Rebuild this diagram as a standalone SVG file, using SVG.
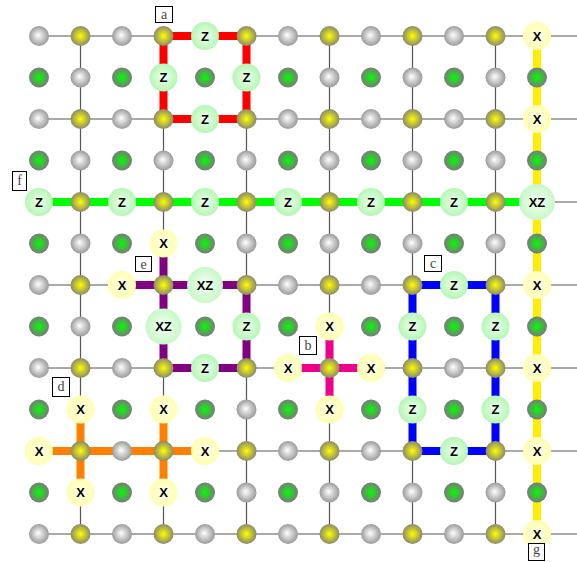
<svg xmlns="http://www.w3.org/2000/svg" width="577" height="562" viewBox="0 0 577 562">
<defs>
<radialGradient id="gGrey" cx="0.5" cy="0.5" r="0.5" fx="0.45" fy="0.45"><stop offset="0" stop-color="#ffffff"/><stop offset="1" stop-color="#9a9a9a"/></radialGradient>
<radialGradient id="gYel" cx="0.5" cy="0.5" r="0.5"><stop offset="0" stop-color="#ffff00"/><stop offset="1" stop-color="#8a8a6a"/></radialGradient>
<radialGradient id="gGrn" cx="0.5" cy="0.5" r="0.5"><stop offset="0" stop-color="#00ff00"/><stop offset="1" stop-color="#7a7a7a"/></radialGradient>
<radialGradient id="gX" cx="0.5" cy="0.5" r="0.5"><stop offset="0" stop-color="#ffffea"/><stop offset="1" stop-color="#ffffb0"/></radialGradient>
<radialGradient id="gZ" cx="0.5" cy="0.5" r="0.5"><stop offset="0" stop-color="#f0fff0"/><stop offset="1" stop-color="#b4f7b4"/></radialGradient>
<radialGradient id="gXZ" cx="0.5" cy="0.5" r="0.5"><stop offset="0" stop-color="#f4fff4"/><stop offset="1" stop-color="#c8f8c8"/></radialGradient>
</defs>
<style>
.g{fill:url(#gGrey)}
.y{fill:url(#gYel)}
.n{fill:url(#gGrn)}
.x{fill:url(#gX)}
.z{fill:url(#gZ)}
.xz{fill:url(#gXZ)}
.t{font-family:"Liberation Sans",Arial,sans-serif;font-weight:bold;font-size:13px;text-anchor:middle;fill:#000}
.grid{stroke:#555;stroke-width:1.2;fill:none}
.p{fill:none;stroke-width:8;stroke-linejoin:miter;stroke-linecap:butt}
.lb rect{fill:#fff;stroke:#000;stroke-width:1}
.lb text{font-family:"Liberation Serif","Times New Roman",serif;font-size:14px;text-anchor:middle;fill:#444}
</style>
<rect width="577" height="562" fill="#fff"/>
<g id="connectors">
<g id="grid-lines" class="grid">
<path d="M39,36H577M39,119H577M39,202H577M39,285H577M39,368H577M39,451H577M39,534H577"/>
<path d="M80.5,36V534M163.5,36V534M246.5,36V534M329.5,36V534M412.5,36V534M495.5,36V534"/>
</g>
<path id="path-a" class="p" stroke="#ff0000" d="M163.5,36H246.5V119H163.5Z"/>
<path id="path-f" class="p" stroke="#00ff00" d="M39,202H537"/>
<path id="path-g" class="p" stroke="#ffee00" d="M537,36V534"/>
<path id="path-c" class="p" stroke="#0000ff" d="M412.5,285H495.5V451H412.5Z"/>
<path id="path-e" class="p" stroke="#800080" d="M163.5,243.5V368H246.5V285H122"/>
<path id="path-b" class="p" stroke="#ec008c" d="M329.5,326.5V409.5M288,368H371"/>
<path id="path-d" class="p" stroke="#ff8000" d="M39,451H205M80.5,409.5V492.5M163.5,409.5V492.5"/>
</g>
<g id="nodes">
<!-- row 0 -->
<g id="n0-0"><circle class="g" cx="39" cy="36" r="10"/></g>
<g id="n0-1"><circle class="y" cx="80.5" cy="36" r="10"/></g>
<g id="n0-2"><circle class="g" cx="122" cy="36" r="10"/></g>
<g id="n0-3"><circle class="y" cx="163.5" cy="36" r="10"/></g>
<g id="n0-4"><circle class="z" cx="205" cy="36" r="14"/><text class="t" x="205" y="40.6">Z</text></g>
<g id="n0-5"><circle class="y" cx="246.5" cy="36" r="10"/></g>
<g id="n0-6"><circle class="g" cx="288" cy="36" r="10"/></g>
<g id="n0-7"><circle class="y" cx="329.5" cy="36" r="10"/></g>
<g id="n0-8"><circle class="g" cx="371" cy="36" r="10"/></g>
<g id="n0-9"><circle class="y" cx="412.5" cy="36" r="10"/></g>
<g id="n0-10"><circle class="g" cx="454" cy="36" r="10"/></g>
<g id="n0-11"><circle class="y" cx="495.5" cy="36" r="10"/></g>
<g id="n0-12"><circle class="x" cx="537" cy="36" r="14"/><text class="t" x="537" y="40.6">X</text></g>
<!-- row 1 -->
<g id="n1-0"><circle class="n" cx="39" cy="77.5" r="10"/></g>
<g id="n1-1"><circle class="g" cx="80.5" cy="77.5" r="10"/></g>
<g id="n1-2"><circle class="n" cx="122" cy="77.5" r="10"/></g>
<g id="n1-3"><circle class="z" cx="163.5" cy="77.5" r="14"/><text class="t" x="163.5" y="82.1">Z</text></g>
<g id="n1-4"><circle class="n" cx="205" cy="77.5" r="10"/></g>
<g id="n1-5"><circle class="z" cx="246.5" cy="77.5" r="14"/><text class="t" x="246.5" y="82.1">Z</text></g>
<g id="n1-6"><circle class="n" cx="288" cy="77.5" r="10"/></g>
<g id="n1-7"><circle class="g" cx="329.5" cy="77.5" r="10"/></g>
<g id="n1-8"><circle class="n" cx="371" cy="77.5" r="10"/></g>
<g id="n1-9"><circle class="g" cx="412.5" cy="77.5" r="10"/></g>
<g id="n1-10"><circle class="n" cx="454" cy="77.5" r="10"/></g>
<g id="n1-11"><circle class="g" cx="495.5" cy="77.5" r="10"/></g>
<g id="n1-12"><circle class="n" cx="537" cy="77.5" r="10"/></g>
<!-- row 2 -->
<g id="n2-0"><circle class="g" cx="39" cy="119" r="10"/></g>
<g id="n2-1"><circle class="y" cx="80.5" cy="119" r="10"/></g>
<g id="n2-2"><circle class="g" cx="122" cy="119" r="10"/></g>
<g id="n2-3"><circle class="y" cx="163.5" cy="119" r="10"/></g>
<g id="n2-4"><circle class="z" cx="205" cy="119" r="14"/><text class="t" x="205" y="123.6">Z</text></g>
<g id="n2-5"><circle class="y" cx="246.5" cy="119" r="10"/></g>
<g id="n2-6"><circle class="g" cx="288" cy="119" r="10"/></g>
<g id="n2-7"><circle class="y" cx="329.5" cy="119" r="10"/></g>
<g id="n2-8"><circle class="g" cx="371" cy="119" r="10"/></g>
<g id="n2-9"><circle class="y" cx="412.5" cy="119" r="10"/></g>
<g id="n2-10"><circle class="g" cx="454" cy="119" r="10"/></g>
<g id="n2-11"><circle class="y" cx="495.5" cy="119" r="10"/></g>
<g id="n2-12"><circle class="x" cx="537" cy="119" r="14"/><text class="t" x="537" y="123.6">X</text></g>
<!-- row 3 -->
<g id="n3-0"><circle class="n" cx="39" cy="160.5" r="10"/></g>
<g id="n3-1"><circle class="g" cx="80.5" cy="160.5" r="10"/></g>
<g id="n3-2"><circle class="n" cx="122" cy="160.5" r="10"/></g>
<g id="n3-3"><circle class="g" cx="163.5" cy="160.5" r="10"/></g>
<g id="n3-4"><circle class="n" cx="205" cy="160.5" r="10"/></g>
<g id="n3-5"><circle class="g" cx="246.5" cy="160.5" r="10"/></g>
<g id="n3-6"><circle class="n" cx="288" cy="160.5" r="10"/></g>
<g id="n3-7"><circle class="g" cx="329.5" cy="160.5" r="10"/></g>
<g id="n3-8"><circle class="n" cx="371" cy="160.5" r="10"/></g>
<g id="n3-9"><circle class="g" cx="412.5" cy="160.5" r="10"/></g>
<g id="n3-10"><circle class="n" cx="454" cy="160.5" r="10"/></g>
<g id="n3-11"><circle class="g" cx="495.5" cy="160.5" r="10"/></g>
<g id="n3-12"><circle class="n" cx="537" cy="160.5" r="10"/></g>
<!-- row 4 -->
<g id="n4-0"><circle class="z" cx="39" cy="202" r="14"/><text class="t" x="39" y="206.6">Z</text></g>
<g id="n4-1"><circle class="y" cx="80.5" cy="202" r="10"/></g>
<g id="n4-2"><circle class="z" cx="122" cy="202" r="14"/><text class="t" x="122" y="206.6">Z</text></g>
<g id="n4-3"><circle class="y" cx="163.5" cy="202" r="10"/></g>
<g id="n4-4"><circle class="z" cx="205" cy="202" r="14"/><text class="t" x="205" y="206.6">Z</text></g>
<g id="n4-5"><circle class="y" cx="246.5" cy="202" r="10"/></g>
<g id="n4-6"><circle class="z" cx="288" cy="202" r="14"/><text class="t" x="288" y="206.6">Z</text></g>
<g id="n4-7"><circle class="y" cx="329.5" cy="202" r="10"/></g>
<g id="n4-8"><circle class="z" cx="371" cy="202" r="14"/><text class="t" x="371" y="206.6">Z</text></g>
<g id="n4-9"><circle class="y" cx="412.5" cy="202" r="10"/></g>
<g id="n4-10"><circle class="z" cx="454" cy="202" r="14"/><text class="t" x="454" y="206.6">Z</text></g>
<g id="n4-11"><circle class="y" cx="495.5" cy="202" r="10"/></g>
<g id="n4-12"><circle class="xz" cx="537" cy="202" r="18"/><text class="t" x="537" y="206.6">XZ</text></g>
<!-- row 5 -->
<g id="n5-0"><circle class="n" cx="39" cy="243.5" r="10"/></g>
<g id="n5-1"><circle class="g" cx="80.5" cy="243.5" r="10"/></g>
<g id="n5-2"><circle class="n" cx="122" cy="243.5" r="10"/></g>
<g id="n5-3"><circle class="x" cx="163.5" cy="243.5" r="14"/><text class="t" x="163.5" y="248.1">X</text></g>
<g id="n5-4"><circle class="n" cx="205" cy="243.5" r="10"/></g>
<g id="n5-5"><circle class="g" cx="246.5" cy="243.5" r="10"/></g>
<g id="n5-6"><circle class="n" cx="288" cy="243.5" r="10"/></g>
<g id="n5-7"><circle class="g" cx="329.5" cy="243.5" r="10"/></g>
<g id="n5-8"><circle class="n" cx="371" cy="243.5" r="10"/></g>
<g id="n5-9"><circle class="g" cx="412.5" cy="243.5" r="10"/></g>
<g id="n5-10"><circle class="n" cx="454" cy="243.5" r="10"/></g>
<g id="n5-11"><circle class="g" cx="495.5" cy="243.5" r="10"/></g>
<g id="n5-12"><circle class="n" cx="537" cy="243.5" r="10"/></g>
<!-- row 6 -->
<g id="n6-0"><circle class="g" cx="39" cy="285" r="10"/></g>
<g id="n6-1"><circle class="y" cx="80.5" cy="285" r="10"/></g>
<g id="n6-2"><circle class="x" cx="122" cy="285" r="14"/><text class="t" x="122" y="289.6">X</text></g>
<g id="n6-3"><circle class="y" cx="163.5" cy="285" r="10"/></g>
<g id="n6-4"><circle class="xz" cx="205" cy="285" r="18"/><text class="t" x="205" y="289.6">XZ</text></g>
<g id="n6-5"><circle class="y" cx="246.5" cy="285" r="10"/></g>
<g id="n6-6"><circle class="g" cx="288" cy="285" r="10"/></g>
<g id="n6-7"><circle class="y" cx="329.5" cy="285" r="10"/></g>
<g id="n6-8"><circle class="g" cx="371" cy="285" r="10"/></g>
<g id="n6-9"><circle class="y" cx="412.5" cy="285" r="10"/></g>
<g id="n6-10"><circle class="z" cx="454" cy="285" r="14"/><text class="t" x="454" y="289.6">Z</text></g>
<g id="n6-11"><circle class="y" cx="495.5" cy="285" r="10"/></g>
<g id="n6-12"><circle class="x" cx="537" cy="285" r="14"/><text class="t" x="537" y="289.6">X</text></g>
<!-- row 7 -->
<g id="n7-0"><circle class="n" cx="39" cy="326.5" r="10"/></g>
<g id="n7-1"><circle class="g" cx="80.5" cy="326.5" r="10"/></g>
<g id="n7-2"><circle class="n" cx="122" cy="326.5" r="10"/></g>
<g id="n7-3"><circle class="xz" cx="163.5" cy="326.5" r="18"/><text class="t" x="163.5" y="331.1">XZ</text></g>
<g id="n7-4"><circle class="n" cx="205" cy="326.5" r="10"/></g>
<g id="n7-5"><circle class="z" cx="246.5" cy="326.5" r="14"/><text class="t" x="246.5" y="331.1">Z</text></g>
<g id="n7-6"><circle class="n" cx="288" cy="326.5" r="10"/></g>
<g id="n7-7"><circle class="x" cx="329.5" cy="326.5" r="14"/><text class="t" x="329.5" y="331.1">X</text></g>
<g id="n7-8"><circle class="n" cx="371" cy="326.5" r="10"/></g>
<g id="n7-9"><circle class="z" cx="412.5" cy="326.5" r="14"/><text class="t" x="412.5" y="331.1">Z</text></g>
<g id="n7-10"><circle class="n" cx="454" cy="326.5" r="10"/></g>
<g id="n7-11"><circle class="z" cx="495.5" cy="326.5" r="14"/><text class="t" x="495.5" y="331.1">Z</text></g>
<g id="n7-12"><circle class="n" cx="537" cy="326.5" r="10"/></g>
<!-- row 8 -->
<g id="n8-0"><circle class="g" cx="39" cy="368" r="10"/></g>
<g id="n8-1"><circle class="y" cx="80.5" cy="368" r="10"/></g>
<g id="n8-2"><circle class="g" cx="122" cy="368" r="10"/></g>
<g id="n8-3"><circle class="y" cx="163.5" cy="368" r="10"/></g>
<g id="n8-4"><circle class="z" cx="205" cy="368" r="14"/><text class="t" x="205" y="372.6">Z</text></g>
<g id="n8-5"><circle class="y" cx="246.5" cy="368" r="10"/></g>
<g id="n8-6"><circle class="x" cx="288" cy="368" r="14"/><text class="t" x="288" y="372.6">X</text></g>
<g id="n8-7"><circle class="y" cx="329.5" cy="368" r="10"/></g>
<g id="n8-8"><circle class="x" cx="371" cy="368" r="14"/><text class="t" x="371" y="372.6">X</text></g>
<g id="n8-9"><circle class="y" cx="412.5" cy="368" r="10"/></g>
<g id="n8-10"><circle class="g" cx="454" cy="368" r="10"/></g>
<g id="n8-11"><circle class="y" cx="495.5" cy="368" r="10"/></g>
<g id="n8-12"><circle class="x" cx="537" cy="368" r="14"/><text class="t" x="537" y="372.6">X</text></g>
<!-- row 9 -->
<g id="n9-0"><circle class="n" cx="39" cy="409.5" r="10"/></g>
<g id="n9-1"><circle class="x" cx="80.5" cy="409.5" r="14"/><text class="t" x="80.5" y="414.1">X</text></g>
<g id="n9-2"><circle class="n" cx="122" cy="409.5" r="10"/></g>
<g id="n9-3"><circle class="x" cx="163.5" cy="409.5" r="14"/><text class="t" x="163.5" y="414.1">X</text></g>
<g id="n9-4"><circle class="n" cx="205" cy="409.5" r="10"/></g>
<g id="n9-5"><circle class="g" cx="246.5" cy="409.5" r="10"/></g>
<g id="n9-6"><circle class="n" cx="288" cy="409.5" r="10"/></g>
<g id="n9-7"><circle class="x" cx="329.5" cy="409.5" r="14"/><text class="t" x="329.5" y="414.1">X</text></g>
<g id="n9-8"><circle class="n" cx="371" cy="409.5" r="10"/></g>
<g id="n9-9"><circle class="z" cx="412.5" cy="409.5" r="14"/><text class="t" x="412.5" y="414.1">Z</text></g>
<g id="n9-10"><circle class="n" cx="454" cy="409.5" r="10"/></g>
<g id="n9-11"><circle class="z" cx="495.5" cy="409.5" r="14"/><text class="t" x="495.5" y="414.1">Z</text></g>
<g id="n9-12"><circle class="n" cx="537" cy="409.5" r="10"/></g>
<!-- row 10 -->
<g id="n10-0"><circle class="x" cx="39" cy="451" r="14"/><text class="t" x="39" y="455.6">X</text></g>
<g id="n10-1"><circle class="y" cx="80.5" cy="451" r="10"/></g>
<g id="n10-2"><circle class="g" cx="122" cy="451" r="10"/></g>
<g id="n10-3"><circle class="y" cx="163.5" cy="451" r="10"/></g>
<g id="n10-4"><circle class="x" cx="205" cy="451" r="14"/><text class="t" x="205" y="455.6">X</text></g>
<g id="n10-5"><circle class="y" cx="246.5" cy="451" r="10"/></g>
<g id="n10-6"><circle class="g" cx="288" cy="451" r="10"/></g>
<g id="n10-7"><circle class="y" cx="329.5" cy="451" r="10"/></g>
<g id="n10-8"><circle class="g" cx="371" cy="451" r="10"/></g>
<g id="n10-9"><circle class="y" cx="412.5" cy="451" r="10"/></g>
<g id="n10-10"><circle class="z" cx="454" cy="451" r="14"/><text class="t" x="454" y="455.6">Z</text></g>
<g id="n10-11"><circle class="y" cx="495.5" cy="451" r="10"/></g>
<g id="n10-12"><circle class="x" cx="537" cy="451" r="14"/><text class="t" x="537" y="455.6">X</text></g>
<!-- row 11 -->
<g id="n11-0"><circle class="n" cx="39" cy="492.5" r="10"/></g>
<g id="n11-1"><circle class="x" cx="80.5" cy="492.5" r="14"/><text class="t" x="80.5" y="497.1">X</text></g>
<g id="n11-2"><circle class="n" cx="122" cy="492.5" r="10"/></g>
<g id="n11-3"><circle class="x" cx="163.5" cy="492.5" r="14"/><text class="t" x="163.5" y="497.1">X</text></g>
<g id="n11-4"><circle class="n" cx="205" cy="492.5" r="10"/></g>
<g id="n11-5"><circle class="g" cx="246.5" cy="492.5" r="10"/></g>
<g id="n11-6"><circle class="n" cx="288" cy="492.5" r="10"/></g>
<g id="n11-7"><circle class="g" cx="329.5" cy="492.5" r="10"/></g>
<g id="n11-8"><circle class="n" cx="371" cy="492.5" r="10"/></g>
<g id="n11-9"><circle class="g" cx="412.5" cy="492.5" r="10"/></g>
<g id="n11-10"><circle class="n" cx="454" cy="492.5" r="10"/></g>
<g id="n11-11"><circle class="g" cx="495.5" cy="492.5" r="10"/></g>
<g id="n11-12"><circle class="n" cx="537" cy="492.5" r="10"/></g>
<!-- row 12 -->
<g id="n12-0"><circle class="g" cx="39" cy="534" r="10"/></g>
<g id="n12-1"><circle class="y" cx="80.5" cy="534" r="10"/></g>
<g id="n12-2"><circle class="g" cx="122" cy="534" r="10"/></g>
<g id="n12-3"><circle class="y" cx="163.5" cy="534" r="10"/></g>
<g id="n12-4"><circle class="g" cx="205" cy="534" r="10"/></g>
<g id="n12-5"><circle class="y" cx="246.5" cy="534" r="10"/></g>
<g id="n12-6"><circle class="g" cx="288" cy="534" r="10"/></g>
<g id="n12-7"><circle class="y" cx="329.5" cy="534" r="10"/></g>
<g id="n12-8"><circle class="g" cx="371" cy="534" r="10"/></g>
<g id="n12-9"><circle class="y" cx="412.5" cy="534" r="10"/></g>
<g id="n12-10"><circle class="g" cx="454" cy="534" r="10"/></g>
<g id="n12-11"><circle class="y" cx="495.5" cy="534" r="10"/></g>
<g id="n12-12"><circle class="x" cx="537" cy="534" r="14"/><text class="t" x="537" y="538.6">X</text></g>
</g>
<g id="labels">
<g id="label-a" class="lb"><rect x="155.5" y="6.5" width="17" height="16"/><text x="164" y="19">a</text></g>
<g id="label-b" class="lb"><rect x="299.5" y="336.5" width="17" height="18"/><text x="308" y="350">b</text></g>
<g id="label-c" class="lb"><rect x="424.5" y="255.5" width="17" height="16"/><text x="433" y="268">c</text></g>
<g id="label-d" class="lb"><rect x="52.5" y="377.5" width="17" height="19"/><text x="61" y="391">d</text></g>
<g id="label-e" class="lb"><rect x="135.5" y="256.5" width="16" height="15"/><text x="143.5" y="268.5">e</text></g>
<g id="label-f" class="lb"><rect x="12.5" y="171.5" width="14" height="19"/><text x="19.5" y="185">f</text></g>
<g id="label-g" class="lb"><rect x="528.5" y="543.5" width="16" height="17"/><text x="536.5" y="554">g</text></g>
</g>
</svg>
